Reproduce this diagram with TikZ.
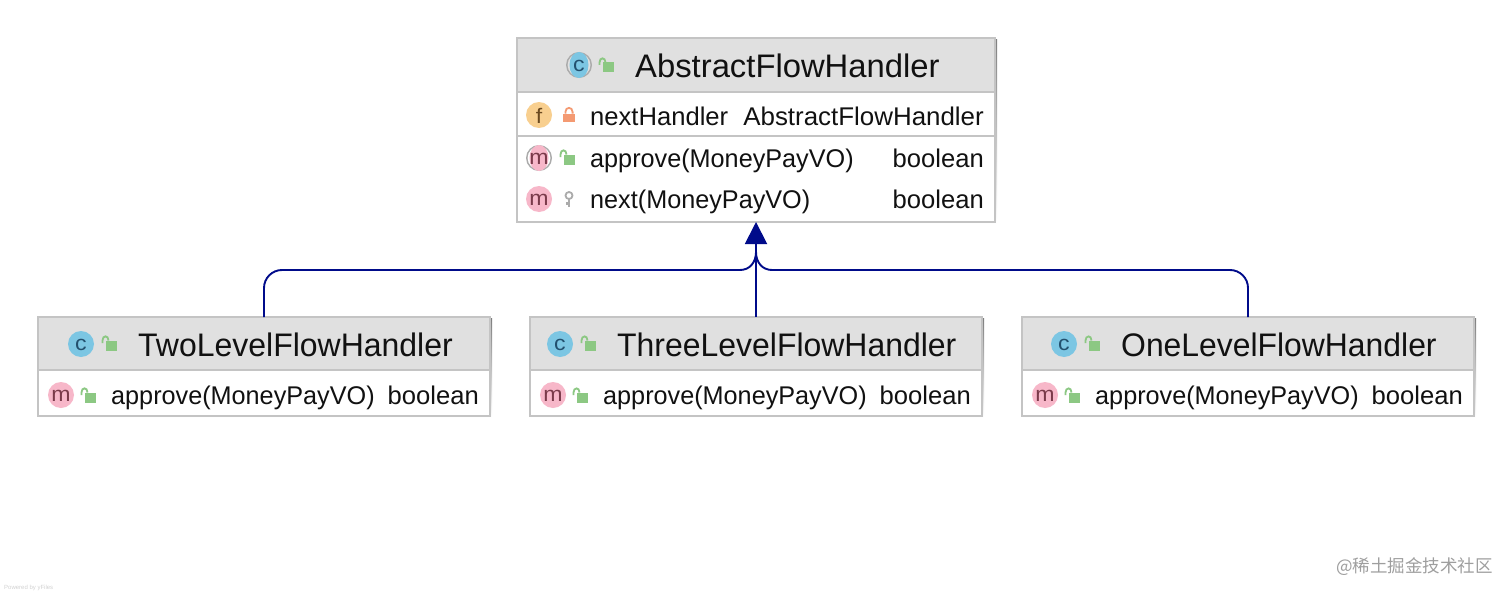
\documentclass[tikz,border=0pt]{standalone}
\usepackage{fontspec}
\setmainfont{Liberation Sans}
\newfontfamily\cjkwm{Noto Sans CJK SC}
\usetikzlibrary{arrows.meta}
\definecolor{hdr}{HTML}{E0E0E0}
\definecolor{edgeg}{HTML}{C4C4C4}
\definecolor{shade}{HTML}{E9E9E9}
\definecolor{navyl}{HTML}{000B8A}
\definecolor{cblue}{HTML}{7CC6E3}
\definecolor{mpink}{HTML}{F7B7C9}
\definecolor{forange}{HTML}{F8CF8F}
\definecolor{lgreen}{HTML}{8CC883}
\definecolor{lorange}{HTML}{F49A72}
\definecolor{keyg}{HTML}{ABABAB}
\definecolor{ink}{HTML}{111111}
\definecolor{cink}{HTML}{23506E}
\definecolor{mink}{HTML}{7A3A4A}
\definecolor{fink}{HTML}{6B4A20}
\tikzset{
  boxpart/.style={draw=edgeg,line width=1.5pt,fill=white,inner sep=0pt,outer sep=0pt},
  header/.style={boxpart,fill=hdr},
  title/.style={anchor=base west,inner sep=0pt,text=ink,font=\fontsize{32.6}{36}\selectfont},
  member/.style={anchor=base west,inner sep=0pt,text=ink,font=\fontsize{25.6}{30}\selectfont},
  membertype/.style={member,anchor=base east},
  iconletter/.style={inner sep=0pt,font=\fontsize{21}{22}\selectfont,text=#1},
  inherit/.style={draw=navyl,line width=1.9pt},
}
\newcommand{\roundicon}[5]{%
  \fill[#3] (#1,#2) circle[radius=13];
  \node[iconletter=#4] at (#1,#2+0.5) {\scalebox{1.1}[1]{#5}};}
% x, y, colour, letter colour, letter, background
\newcommand{\abstracticon}[6]{%
  \fill[keyg] (#1,#2) circle[radius=13];
  \fill[#6] (#1,#2) circle[radius=11.4];
  \fill[#3] (#1,#2) ellipse[x radius=9.5,y radius=13];
  \node[iconletter=#4] at (#1,#2+0.5) {\scalebox{1.1}[1]{#5}};}
\newcommand{\openlock}[2]{%
  \begin{scope}[shift={(#1,#2)}]
    \fill[lgreen] (-4,-3.5) rectangle (7,6.5);
    \draw[lgreen,line width=1.8pt] (-7.5,-1) -- (-7.5,-3.5) .. controls (-7.5,-9) and (-1.5,-9) .. (-1.5,-3.5);
  \end{scope}}
\newcommand{\closedlock}[2]{%
  \begin{scope}[shift={(#1,#2)}]
    \fill[lorange] (-6,-1.5) rectangle (6,7);
    \draw[lorange,line width=1.8pt] (-3.6,-1.5) -- (-3.6,-3) .. controls (-3.6,-8.5) and (3.6,-8.5) .. (3.6,-3) -- (3.6,-1.5);
  \end{scope}}
\newcommand{\keyicon}[2]{%
  \begin{scope}[shift={(#1,#2)}]
    \draw[keyg,line width=1.8pt] (0,-3.5) circle[radius=3.5];
    \draw[keyg,line width=2.4pt] (0,0) -- (0,8) (0,4.5) -- (-3,4.5);
  \end{scope}}
\begin{document}
\begin{tikzpicture}[x=1pt,y=-1pt]
\useasboundingbox (0,0) rectangle (1512,594);
% soft shadows
\fill[shade] (518.5,39.5) rectangle (997,224);
\fill[shade] (39.5,318.5) rectangle (492,418);
\fill[shade] (531.5,318.5) rectangle (984,418);
\fill[shade] (1023.5,318.5) rectangle (1476,418);
% AbstractFlowHandler
\node[header,minimum width=478pt,minimum height=54pt] (absH) at (756,65) {};
\node[boxpart,minimum width=478pt,minimum height=44pt] (absF) at (756,114) {};
\node[boxpart,minimum width=478pt,minimum height=86pt] (absM) at (756,179) {};
\abstracticon{579}{65}{cblue}{cink}{c}{hdr}
\openlock{607}{66}
\node[title] (absT) at (635,77.5) {\scalebox{1.006}[1]{AbstractFlowHandler}};
\roundicon{539}{115}{forange}{fink}{f}
\closedlock{569}{115}
\node[member] (absF1) at (590,125) {nextHandler};
\node[membertype] (absF2) at (984,125) {\scalebox{1.012}[1]{AbstractFlowHandler}};
\abstracticon{539}{158}{mpink}{mink}{m}{white}
\openlock{568}{158}
\node[member] (absM1) at (590,167) {\scalebox{.985}[1]{approve(MoneyPayVO)}};
\node[membertype] (absM1t) at (984,167) {boolean};
\roundicon{539}{199}{mpink}{mink}{m}
\keyicon{569}{199}
\node[member] (absM2) at (590,208) {\scalebox{.985}[1]{next(MoneyPayVO)}};
\node[membertype] (absM2t) at (984,208) {boolean};
% TwoLevelFlowHandler
\node[header,minimum width=452pt,minimum height=53pt] (twoH) at (264,343.5) {};
\node[boxpart,minimum width=452pt,minimum height=46pt] (twoM) at (264,393) {};
\roundicon{81}{344}{cblue}{cink}{c}
\openlock{110}{344}
\node[title] (twoT) at (138,356) {\scalebox{.981}[1]{TwoLevelFlowHandler}};
\roundicon{61}{395}{mpink}{mink}{m}
\openlock{89}{396}
\node[member] (twoM1) at (111,404) {\scalebox{.985}[1]{approve(MoneyPayVO)}};
\node[membertype] (twoM1t) at (479,404) {boolean};
% ThreeLevelFlowHandler
\node[header,minimum width=452pt,minimum height=53pt] (threeH) at (756,343.5) {};
\node[boxpart,minimum width=452pt,minimum height=46pt] (threeM) at (756,393) {};
\roundicon{560}{344}{cblue}{cink}{c}
\openlock{589}{344}
\node[title] (threeT) at (617,356) {\scalebox{.98}[1]{ThreeLevelFlowHandler}};
\roundicon{553}{395}{mpink}{mink}{m}
\openlock{581}{396}
\node[member] (threeM1) at (603,404) {\scalebox{.985}[1]{approve(MoneyPayVO)}};
\node[membertype] (threeM1t) at (971,404) {boolean};
% OneLevelFlowHandler
\node[header,minimum width=452pt,minimum height=53pt] (oneH) at (1248,343.5) {};
\node[boxpart,minimum width=452pt,minimum height=46pt] (oneM) at (1248,393) {};
\roundicon{1064}{344}{cblue}{cink}{c}
\openlock{1093}{344}
\node[title] (oneT) at (1121,356) {\scalebox{.978}[1]{OneLevelFlowHandler}};
\roundicon{1045}{395}{mpink}{mink}{m}
\openlock{1073}{396}
\node[member] (oneM1) at (1095,404) {\scalebox{.985}[1]{approve(MoneyPayVO)}};
\node[membertype] (oneM1t) at (1463,404) {boolean};
% connectors
\coordinate (leftrun) at (740,270);
\coordinate (rightrun) at (772,270);
\coordinate (merge) at (756,252);
\draw[inherit,rounded corners=18pt] (twoH.north) |- (leftrun);
\draw[inherit,rounded corners=18pt] (oneH.north) |- (rightrun);
\draw[inherit] (leftrun) .. controls (750,270) and (756,262) .. (merge);
\draw[inherit] (rightrun) .. controls (762,270) and (756,262) .. (merge);
\draw[inherit,-{Triangle[length=22pt,width=22pt,fill=navyl]}] (threeH.north) -- (absM.south);
% small print
\node[anchor=base west,inner sep=0pt,text=black!18,font=\fontsize{6}{7}\selectfont] (powered) at (4,589) {Powered by yFiles};
\node[anchor=base east,inner sep=0pt,text=black!38,font=\cjkwm\fontsize{17.5}{20}\selectfont] (mark) at (1493,572) {@稀土掘金技术社区};
\end{tikzpicture}
\end{document}
